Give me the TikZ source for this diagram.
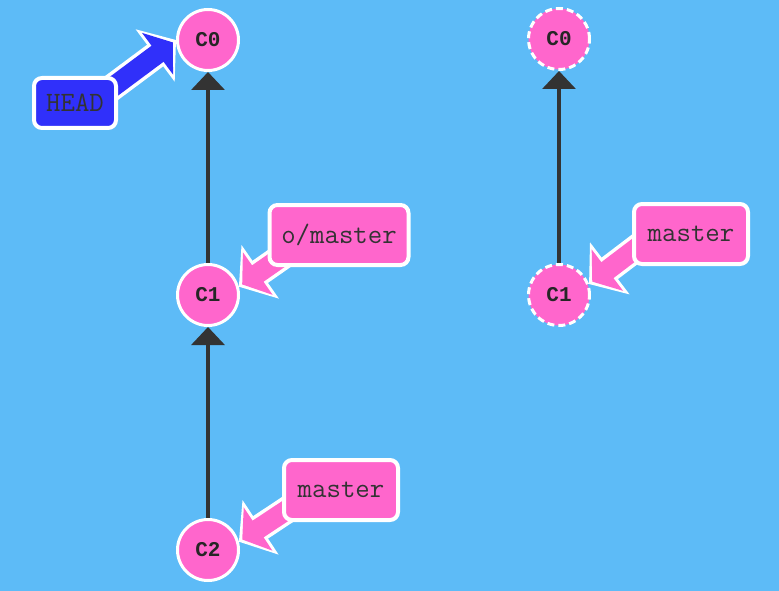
\documentclass[tikz,border=0pt]{standalone}
\usepackage{fontspec}
\newfontfamily\commitfont{Liberation Mono}
\usepackage{tikz}
\usetikzlibrary{arrows.meta}
\usetikzlibrary{backgrounds}
\usepackage{xcolor}
\definecolor{skyblue}{RGB}{93,187,247}
\definecolor{commitpink}{RGB}{255,102,204}
\definecolor{headblue}{RGB}{48,48,250}
\definecolor{inkgray}{RGB}{51,51,51}

\tikzset{
  commit/.style={circle, fill=commitpink, draw=white, line width=3pt,
    minimum size=61pt, inner sep=0pt, text=black!85,
    font=\commitfont\bfseries\fontsize{21}{21}\selectfont},
  ghost/.style={commit, dash pattern=on 7pt off 4pt},
  branchbox/.style={rectangle, rounded corners=8pt, fill=commitpink, draw=white,
    line width=4pt, minimum height=60pt, minimum width=114pt, inner xsep=4pt,
    text=inkgray, font=\ttfamily\fontsize{28}{28}\selectfont},
  headbox/.style={branchbox, fill=headblue, minimum height=50pt, minimum width=82pt},
  parent/.style={draw=inkgray, line width=3.5pt, -{Triangle[width=33pt,length=18pt]}},
  fatout/.style={draw=white, line width=27pt, -{Triangle[width=64pt,length=26pt]}},
  fatin/.style={line width=20pt, shorten >=4pt, -{Triangle[width=51pt,length=19pt]}}
}

\begin{document}
\begin{tikzpicture}[x=1pt, y=-1pt]
    \useasboundingbox (0,0) rectangle (779,591);

    % Commits, local
    \node[commit] (c0) at (208,40) {C0};
    \node[commit] (c1) at (208,295) {C1};
    \node[commit] (c2) at (208,550) {C2};

    % Commits, remote
    \node[ghost] (rc0) at (559,39) {C0};
    \node[ghost] (rc1) at (559,295) {C1};

    % Branch labels
    \node[headbox] (head) at (75,103) {HEAD};
    \node[branchbox, minimum width=139pt] (omaster) at (339,235) {o/master};
    \node[branchbox] (master) at (341,490) {master};
    \node[branchbox] (rmaster) at (691,234) {master};

    % Tails of the label pointers, hidden under the labels
    \coordinate (headtail) at ([xshift=7pt, yshift=-7pt]head.center);
    \coordinate (omtail) at ([xshift=-26pt]omaster.center);
    \coordinate (mtail) at ([xshift=-24pt]master.center);
    \coordinate (rmtail) at ([xshift=-36pt]rmaster.center);

    \begin{scope}[on background layer]
        \fill[skyblue] (0,0) rectangle (779,591);

        % Parent links
        \draw[parent] (c1) -- (c0);
        \draw[parent] (c2) -- (c1);
        \draw[parent] (rc1) -- (rc0);

        % Label pointers
        \foreach \from/\to/\col in {headtail/c0.west/headblue, omtail/c1.15/commitpink,
                                    mtail/c2.15/commitpink, rmtail/rc1.20/commitpink} {
            \draw[fatout] (\from) -- (\to);
            \draw[fatin, draw=\col] (\from) -- (\to);
        }
    \end{scope}
\end{tikzpicture}
\end{document}
